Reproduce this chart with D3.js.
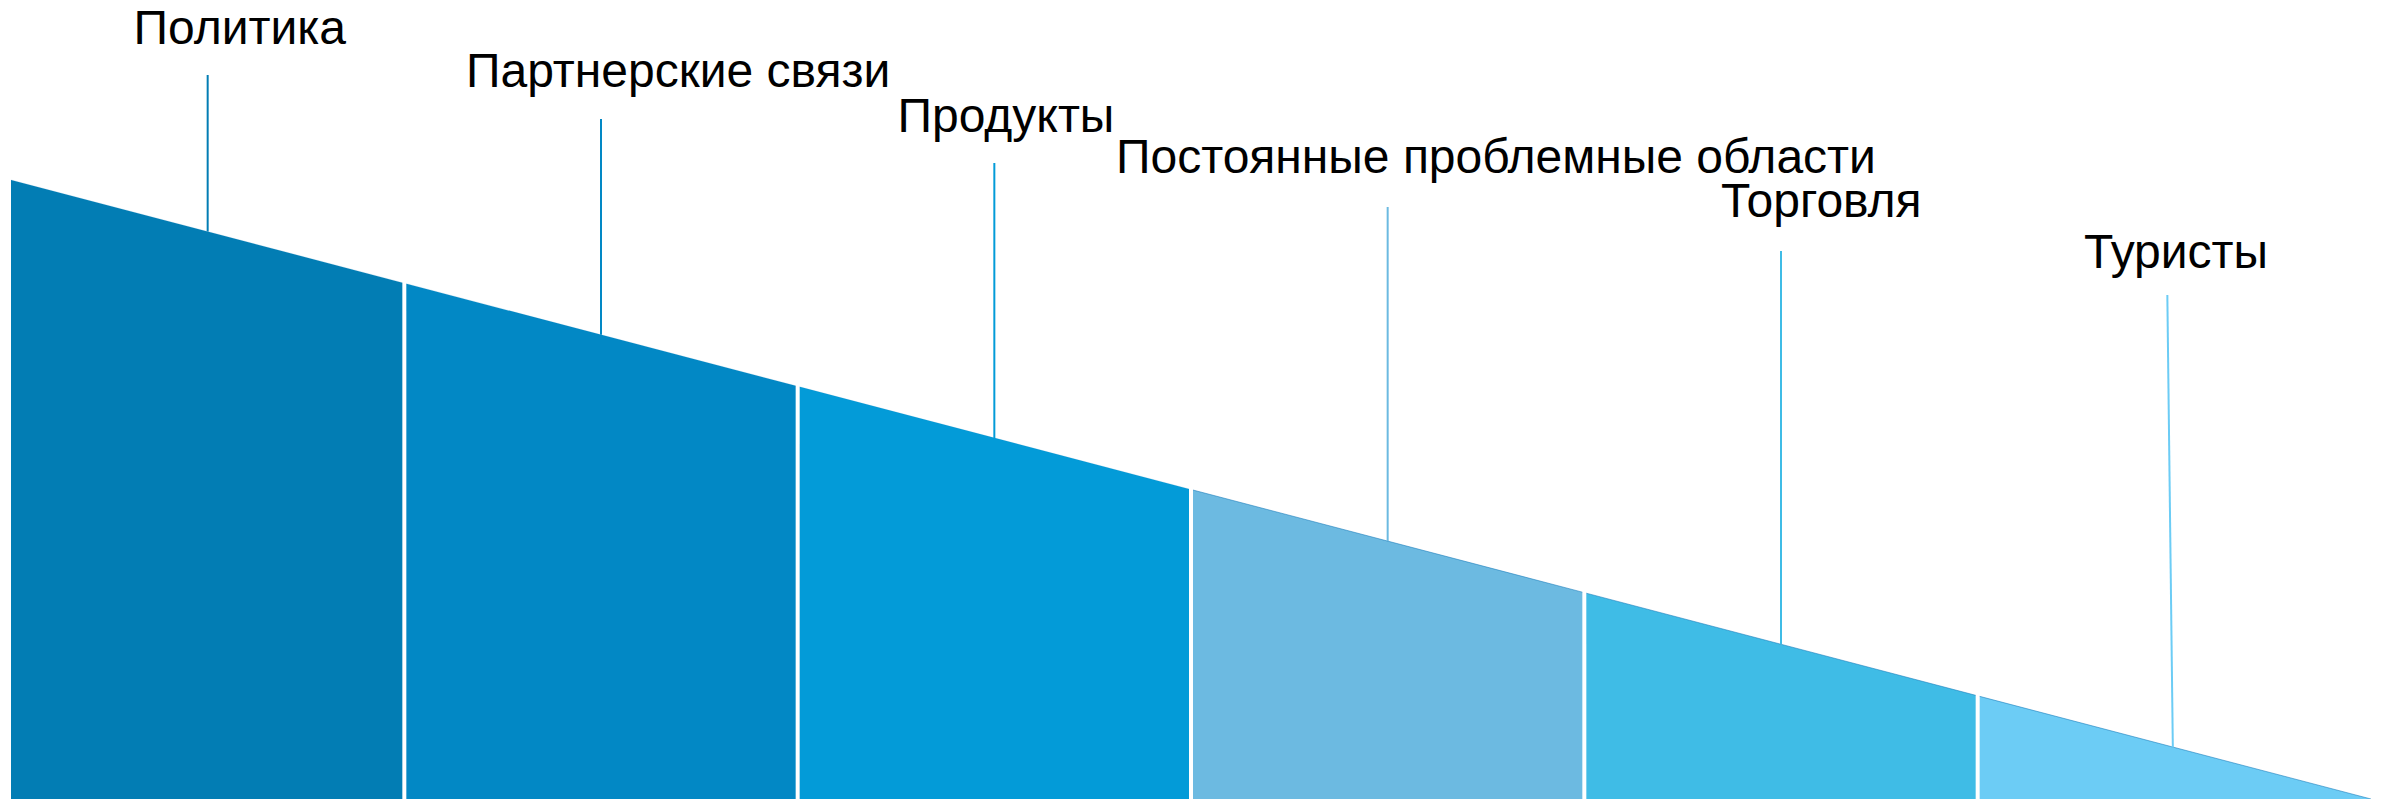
<!DOCTYPE html>
<html>
<head>
<meta charset="utf-8">
<script src="https://cdn.jsdelivr.net/npm/d3@7/dist/d3.min.js"></script>
<style>
  html, body { margin: 0; padding: 0; background: #ffffff; }
  svg { display: block; }
</style>
</head>
<body>
<svg id="chart" width="2395" height="799"></svg>
<script>
// ---------------- DATA ----------------
const categories = ["Политика", "Партнерские связи", "Продукты", "Постоянные проблемные области", "Торговля", "Туристы"];
const bandWeights = [1, 1, 1, 1, 1, 1];          // equal-width bands
const levelStart = 100;                            // slope height at the left edge
const levelEnd = 0;                                // slope height at the right tip
const bandColors = ["#027DB4", "#0288C5", "#039BD8", "#6CBAE1", "#3FBCE6", "#6CCCF5"];

// ---------------- LAYOUT ----------------
const W = 2395, H = 799;
const plotLeft = 11, plotRight = 2371, plotTop = 180, plotBottom = 799;
const gap = 4;
const fontSize = 48;
const labelLeft = [133.5, 466, 897.5, 1116, 1721, 2084];
const labelBaseline = [44.3, 87.3, 132.3, 173.3, 216.5, 268.3];
const leaderTop = [75, 119, 163, 207, 251, 295];
const leaderTopShift = [0, 0, 0, 0, 0, -7];

const svg = d3.select("#chart");

const total = d3.sum(bandWeights);
const cum = [0];
bandWeights.forEach((w, i) => cum.push(cum[i] + w));

const x = d3.scaleLinear().domain([0, total]).range([plotLeft, plotRight]);
const level = d3.scaleLinear().domain([0, total]).range([levelStart, levelEnd]);
const y = d3.scaleLinear().domain([0, 100]).range([plotBottom, plotTop]);

const bands = categories.map((c, i) => ({
  name: c, i,
  x0: cum[i], x1: cum[i + 1], mid: (cum[i] + cum[i + 1]) / 2,
  color: bandColors[i]
}));

const topAt = v => y(level(v));
const invX = px => x.invert(px);
const leftPx = d => x(d.x0) + (d.i > 0 ? gap / 2 : 0);
const rightPx = d => x(d.x1) - (d.i < bands.length - 1 ? gap / 2 : 0);

// bands (trapezoids) under the slope
svg.append("g").selectAll("path.band")
  .data(bands)
  .join("path")
  .attr("class", "band")
  .attr("fill", d => d.color)
  .attr("d", d => {
    const l = leftPx(d), r = rightPx(d);
    const pts = [[l, y(0)], [l, topAt(invX(l))], [r, topAt(invX(r))], [r, y(0)]];
    return d3.line()(pts) + "Z";
  });

// thin darker edge along the slope
svg.append("g").selectAll("line.edge")
  .data(bands)
  .join("line")
  .attr("class", "edge")
  .attr("x1", d => leftPx(d))
  .attr("y1", d => topAt(invX(leftPx(d))))
  .attr("x2", d => rightPx(d))
  .attr("y2", d => topAt(invX(rightPx(d))))
  .attr("stroke", "#1479B8")
  .attr("stroke-opacity", d => d.i >= 3 ? 0.55 : 0.15)
  .attr("stroke-width", 1);

// leader lines
svg.append("g").selectAll("line.leader")
  .data(bands)
  .join("line")
  .attr("class", "leader")
  .attr("x1", d => x(d.mid) + leaderTopShift[d.i])
  .attr("y1", d => leaderTop[d.i])
  .attr("x2", d => x(d.mid) - (d.i === 5 ? 1.5 : 0))
  .attr("y2", d => topAt(d.mid))
  .attr("stroke", d => d.color)
  .attr("stroke-width", 2);

// labels
svg.append("g").selectAll("text.label")
  .data(bands)
  .join("text")
  .attr("class", "label")
  .attr("x", d => labelLeft[d.i])
  .attr("y", d => labelBaseline[d.i])
  .attr("font-family", "'Liberation Sans', Arial, Helvetica, sans-serif")
  .attr("font-size", fontSize)
  .attr("fill", "#000000")
  .text(d => d.name);
</script>
</body>
</html>
